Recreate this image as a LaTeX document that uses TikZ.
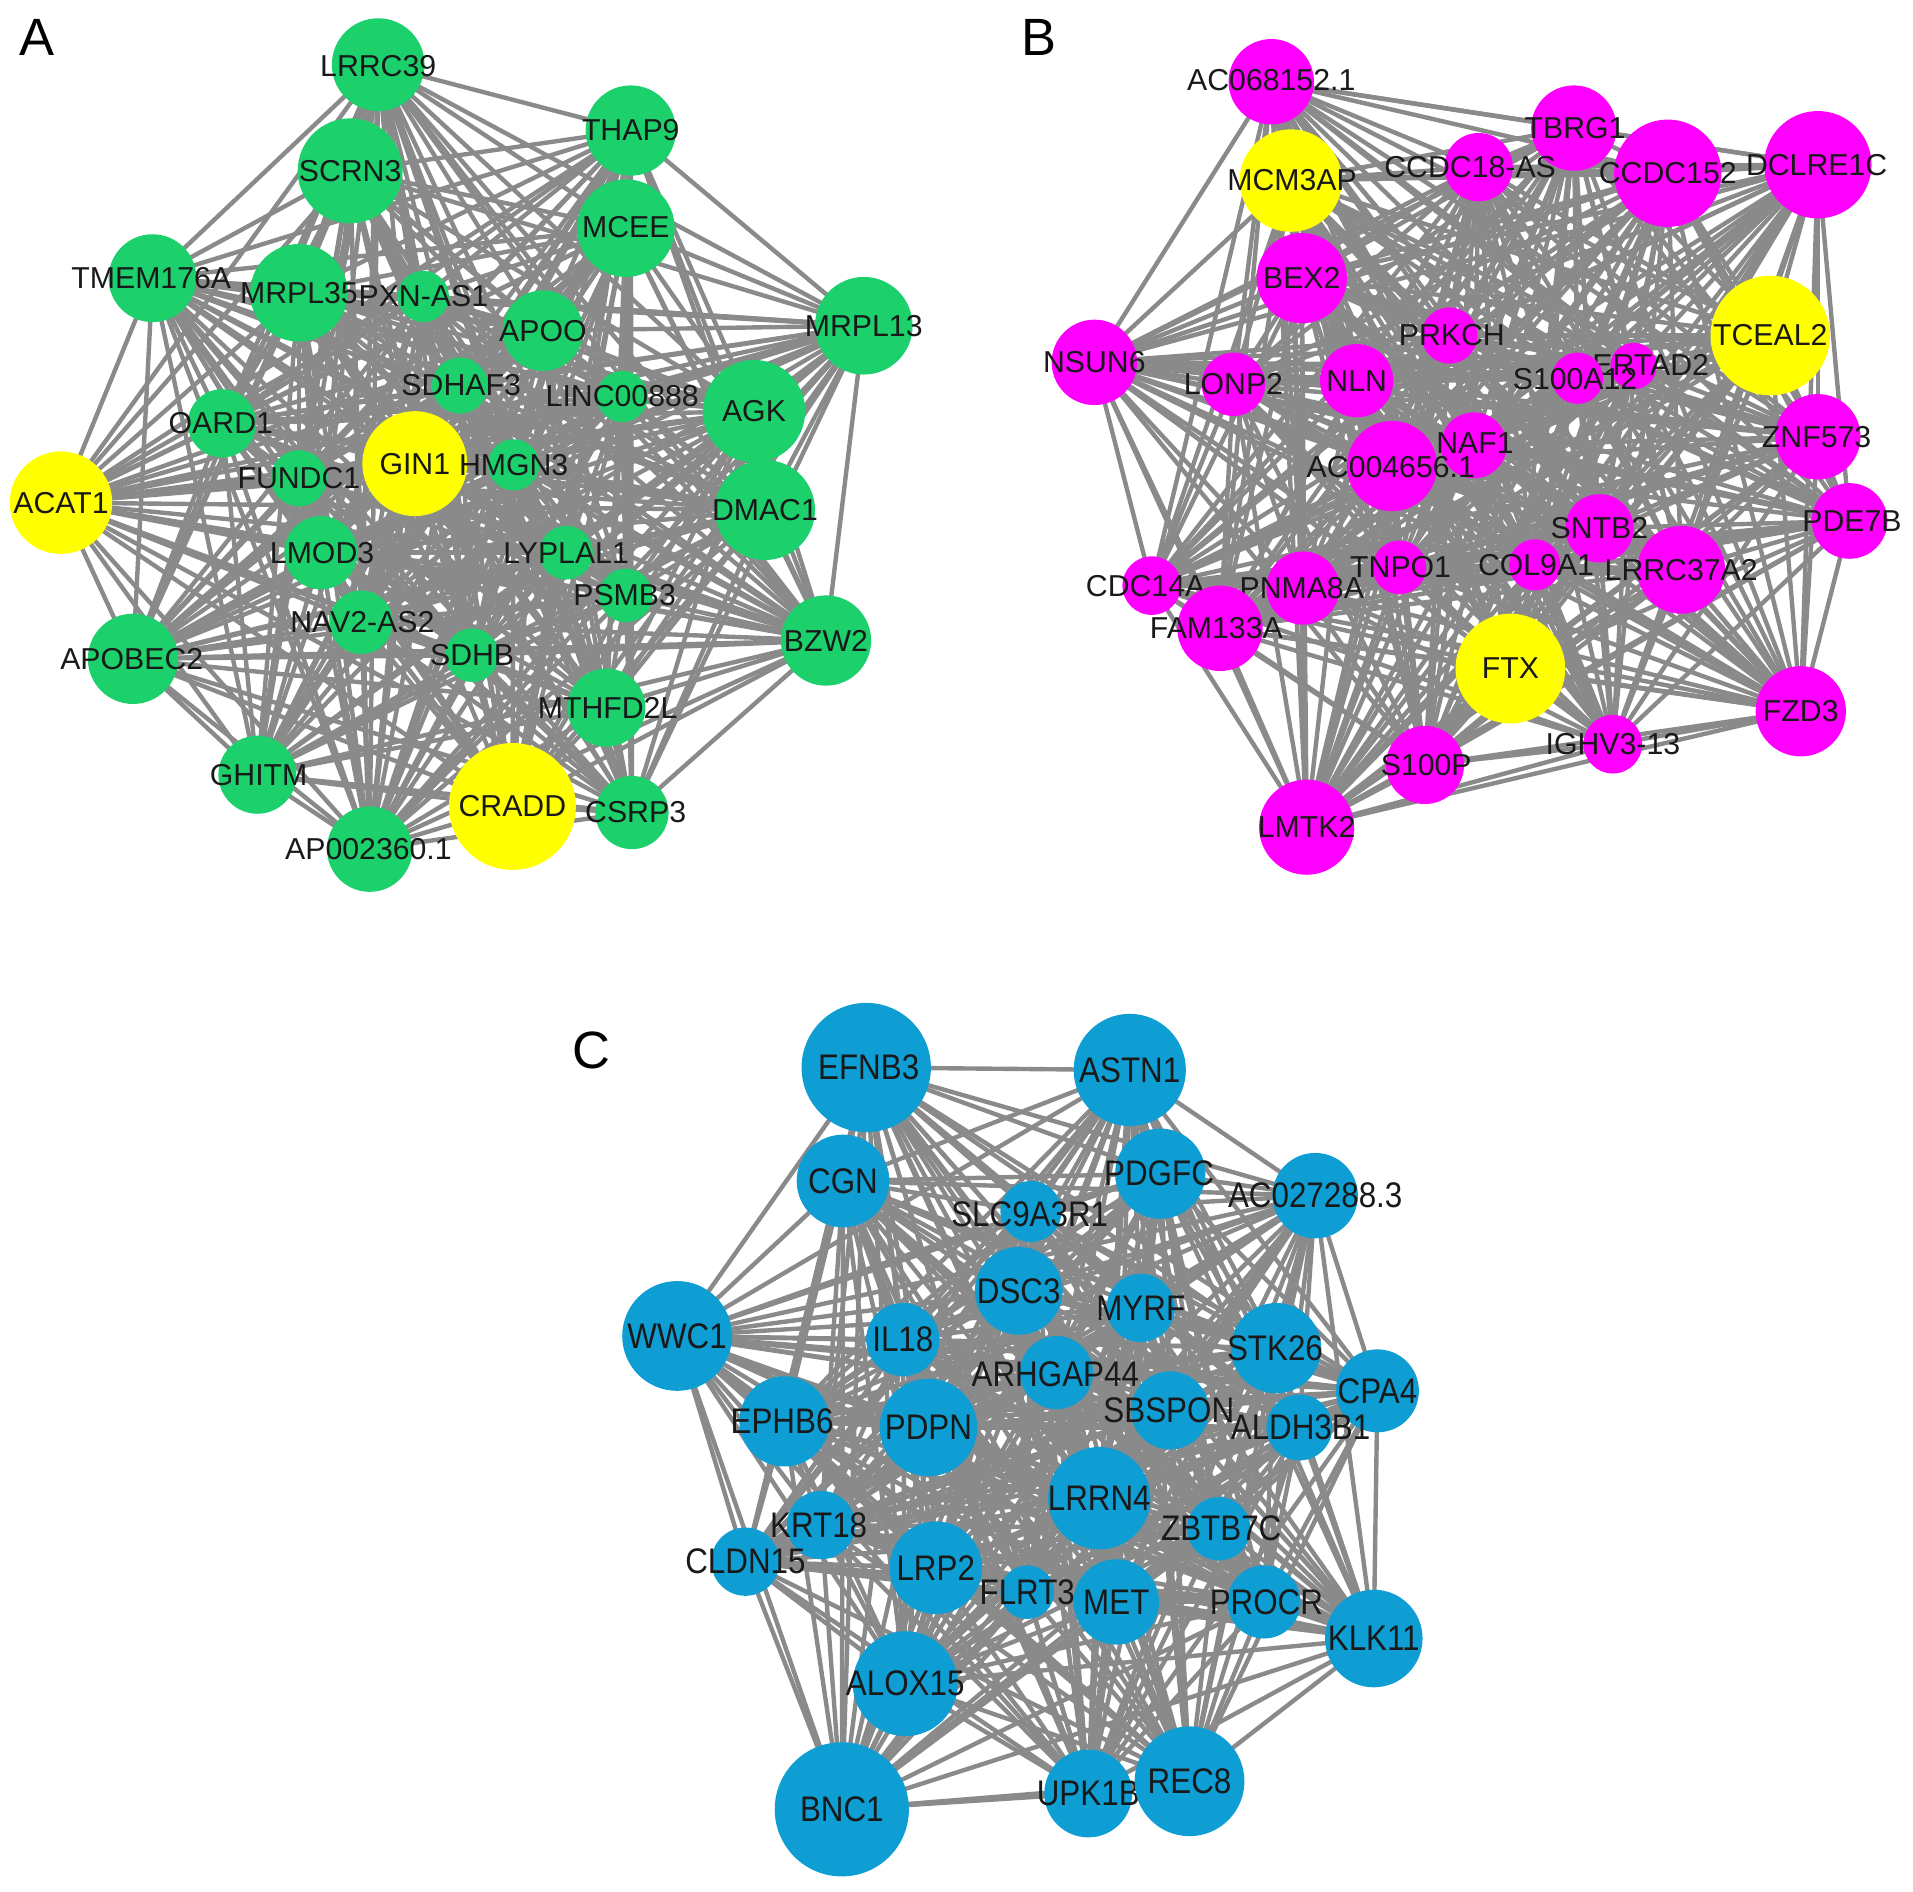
\documentclass[tikz,border=0pt]{standalone}
\usepackage{fontspec}
\usepackage{graphicx}
\setmainfont{Liberation Sans}
\usetikzlibrary{backgrounds}
\definecolor{ngreen}{RGB}{28,208,108}
\definecolor{nmag}{RGB}{255,0,255}
\definecolor{nyel}{RGB}{255,255,0}
\definecolor{nblue}{RGB}{14,158,212}
\definecolor{egray}{RGB}{138,138,138}
\definecolor{ltext}{RGB}{25,25,25}
\tikzset{
  gnode/.style={circle,fill=ngreen,draw=none,inner sep=0pt},
  mnode/.style={circle,fill=nmag,draw=none,inner sep=0pt},
  ynode/.style={circle,fill=nyel,draw=none,inner sep=0pt},
  bnode/.style={circle,fill=nblue,draw=none,inner sep=0pt},
  lbl/.style={inner sep=0pt,text=ltext,font=\fontsize{24.8}{28}\selectfont},
  panel/.style={inner sep=0pt,text=black,font=\fontsize{43}{48}\selectfont},
  edge/.style={draw=egray,line width=3.6pt}
}
% style, name, x, y, radius, text, label x, label y
\newcommand\gn[8]{%
  \node[#1,minimum size=2*#5pt] (#2) at (#3,#4) {};
  \node[lbl] (#2L) at (#7,#8) {#6};}
% panel C: slightly larger, taller lettering
\newcommand\gc[8]{%
  \node[#1,minimum size=2*#5pt] (#2) at (#3,#4) {};
  \node[lbl,font=\fontsize{26.5}{30}\selectfont] (#2L) at (#7,#8) {\scalebox{0.97}[1.1]{#6}};}
\begin{document}
\begin{tikzpicture}[x=1pt,y=-1pt]
\path[use as bounding box] (0,0) rectangle (1568,1550);
\node[panel] (pA) at (30,31) {A};
\node[panel] (pB) at (852,31) {B};
\node[panel] (pC) at (485,861) {C};
% ---------------- Panel A ----------------
\gn{gnode}{LRRCa}{310}{53}{38}{LRRC39}{310}{54}
\gn{gnode}{THAP}{517}{107}{37}{THAP9}{517}{107}
\gn{gnode}{SCRN}{287}{140}{43}{SCRN3}{287}{140}
\gn{gnode}{MCEE}{513}{187}{40}{MCEE}{513}{186}
\gn{gnode}{TMEM}{125}{228}{36}{TMEM176A}{124}{228}
\gn{gnode}{MRPLa}{245}{240}{40}{MRPL35}{245}{240}
\gn{gnode}{PXN}{347}{243}{21}{PXN-AS1}{347}{243}
\gn{gnode}{APOO}{445}{271}{33}{APOO}{445}{271}
\gn{gnode}{MRPLb}{708}{267}{40}{MRPL13}{708}{267}
\gn{gnode}{SDHAF}{377}{316}{23}{SDHAF3}{378}{316}
\gn{gnode}{LINC}{510}{325}{21}{LINC00888}{510}{325}
\gn{gnode}{AGK}{618}{337}{42}{AGK}{618}{337}
\gn{gnode}{OARD}{182}{347}{28}{OARD1}{181}{347}
\gn{ynode}{GIN}{340}{380}{43}{GIN1}{340}{380}
\gn{gnode}{HMGN}{421}{381}{21}{HMGN3}{421}{381}
\gn{gnode}{FUND}{245}{392}{23}{FUNDC1}{245}{392}
\gn{ynode}{ACAT}{50}{412}{42}{ACAT1}{50}{412}
\gn{gnode}{DMAC}{627}{418}{41}{DMAC1}{627}{418}
\gn{gnode}{LMOD}{263}{453}{30}{LMOD3}{264}{453}
\gn{gnode}{LYPL}{464}{453}{22}{LYPLAL1}{464}{453}
\gn{gnode}{PSMB}{513}{488}{22}{PSMB3}{512}{488}
\gn{gnode}{NAVA}{296}{510}{26}{NAV2-AS2}{297}{510}
\gn{gnode}{APOB}{109}{540}{37}{APOBEC2}{108}{540}
\gn{gnode}{BZW}{677}{525}{37}{BZW2}{677}{525}
\gn{gnode}{SDHB}{387}{537}{22}{SDHB}{387}{537}
\gn{gnode}{MTHF}{497}{580}{32}{MTHFD2L}{498}{580}
\gn{gnode}{GHIT}{211}{635}{32}{GHITM}{212}{635}
\gn{ynode}{CRADD}{420}{661}{52}{CRADD}{420}{661}
\gn{gnode}{CSRP}{518}{666}{30}{CSRP3}{521}{666}
\gn{gnode}{APZ}{303}{696}{35}{AP002360.1}{302}{696}
% ---------------- Panel B ----------------
\gn{mnode}{ACsix}{1042}{67}{35}{AC068152.1}{1042}{66}
\gn{mnode}{TBRG}{1290}{105}{35}{TBRG1}{1291}{105}
\gn{mnode}{CCDCa}{1212}{137}{28}{CCDC18-AS}{1205}{137}
\gn{mnode}{CCDCb}{1367}{142}{44}{CCDC152}{1367}{142}
\gn{mnode}{DCLR}{1490}{135}{44}{DCLRE1C}{1489}{135}
\gn{ynode}{MCM}{1058}{148}{42}{MCM3AP}{1059}{148}
\gn{mnode}{BEX}{1067}{228}{37}{BEX2}{1067}{228}
\gn{ynode}{TCEAL}{1451}{275}{49}{TCEAL2}{1451}{275}
\gn{mnode}{PRKCH}{1188}{275}{23}{PRKCH}{1190}{275}
\gn{mnode}{NSUN}{897}{297}{35}{NSUN6}{897}{297}
\gn{mnode}{LONP}{1011}{315}{26}{LONP2}{1011}{315}
\gn{mnode}{NLN}{1112}{312}{30}{NLN}{1112}{312}
\gn{mnode}{SERT}{1339}{300}{19}{ERTAD2}{1353}{299}
\gn{mnode}{SAtw}{1293}{310}{21}{S100A12}{1291}{311}
\gn{mnode}{ZNF}{1490}{358}{35}{ZNF573}{1489}{358}
\gn{mnode}{NAF}{1208}{365}{27}{NAF1}{1209}{363}
\gn{mnode}{ACfour}{1141}{382}{37}{AC004656.1}{1140}{383}
\gn{mnode}{PDE}{1516}{427}{31}{PDE7B}{1518}{427}
\gn{mnode}{SNTB}{1311}{433}{28}{SNTB2}{1311}{433}
\gn{mnode}{CDC}{944}{480}{24}{CDC14A}{939}{480}
\gn{mnode}{PNMA}{1068}{482}{30}{PNMA8A}{1067}{482}
\gn{mnode}{TNPO}{1147}{465}{22}{TNPO1}{1148}{465}
\gn{mnode}{COL}{1258}{463}{21}{COL9A1}{1259}{463}
\gn{mnode}{LRRCc}{1378}{467}{36}{LRRC37A2}{1378}{467}
\gn{mnode}{FAM}{1000}{515}{35}{FAM133A}{997}{515}
\gn{ynode}{FTX}{1238}{548}{45}{FTX}{1238}{548}
\gn{mnode}{FZD}{1476}{583}{37}{FZD3}{1476}{583}
\gn{mnode}{IGHV}{1322}{610}{24}{IGHV3-13}{1322}{610}
\gn{mnode}{SP}{1168}{627}{32}{S100P}{1169}{627}
\gn{mnode}{LMTK}{1071}{678}{39}{LMTK2}{1071}{678}
% ---------------- Panel C ----------------
\gc{bnode}{EFNB}{710}{875}{53}{EFNB3}{712}{875}
\gc{bnode}{ASTN}{926}{877}{46}{ASTN1}{926}{877}
\gc{bnode}{CGN}{691}{968}{38}{CGN}{691}{968}
\gc{bnode}{PDGFC}{951}{962}{37}{PDGFC}{950}{962}
\gc{bnode}{ACtwo}{1078}{980}{35}{AC027288.3}{1078}{980}
\gc{bnode}{SLC}{845}{993}{25}{SLC9A3R1}{844}{995}
\gc{bnode}{DSC}{835}{1058}{36}{DSC3}{835}{1058}
\gc{bnode}{MYRF}{935}{1072}{28}{MYRF}{935}{1072}
\gc{bnode}{WWC}{555}{1095}{45}{WWC1}{555}{1095}
\gc{bnode}{IL}{740}{1098}{30}{IL18}{740}{1098}
\gc{bnode}{STK}{1046}{1105}{37}{STK26}{1045}{1105}
\gc{bnode}{CPA}{1129}{1140}{34}{CPA4}{1129}{1140}
\gc{bnode}{ARH}{866}{1125}{30}{ARHGAP44}{865}{1126}
\gc{bnode}{EPHB}{643}{1165}{37}{EPHB6}{641}{1165}
\gc{bnode}{PDPN}{761}{1170}{40}{PDPN}{761}{1170}
\gc{bnode}{SBS}{959}{1156}{32}{SBSPON}{958}{1156}
\gc{bnode}{ALDH}{1065}{1170}{27}{ALDH3B1}{1066}{1170}
\gc{bnode}{LRRN}{901}{1228}{42}{LRRN4}{901}{1228}
\gc{bnode}{ZBTB}{999}{1253}{26}{ZBTB7C}{1001}{1253}
\gc{bnode}{KRT}{673}{1250}{28}{KRT18}{671}{1250}
\gc{bnode}{CLDN}{611}{1280}{28}{CLDN15}{611}{1280}
\gc{bnode}{LRP}{767}{1285}{38}{LRP2}{767}{1285}
\gc{bnode}{FLRT}{842}{1305}{22}{FLRT3}{842}{1305}
\gc{bnode}{MET}{915}{1313}{35}{MET}{915}{1313}
\gc{bnode}{PROCR}{1036}{1313}{30}{PROCR}{1038}{1313}
\gc{bnode}{KLK}{1126}{1343}{40}{KLK11}{1126}{1343}
\gc{bnode}{ALOX}{742}{1380}{43}{ALOX15}{742}{1380}
\gc{bnode}{BNC}{690}{1483}{55}{BNC1}{690}{1483}
\gc{bnode}{UPK}{892}{1470}{36}{UPK1B}{892}{1470}
\gc{bnode}{REC}{975}{1460}{45}{REC8}{975}{1460}
% ---------------- Edges ----------------
\begin{pgfonlayer}{background}
\foreach \lst in {
 {LRRCa,THAP,SCRN,MCEE,TMEM,MRPLa,PXN,APOO,MRPLb,SDHAF,LINC,AGK,OARD,GIN,HMGN,FUND,ACAT,DMAC,LMOD,LYPL,PSMB,NAVA,APOB,BZW,SDHB,MTHF,GHIT,CRADD,CSRP,APZ},
 {ACsix,TBRG,CCDCa,CCDCb,DCLR,MCM,BEX,TCEAL,PRKCH,NSUN,LONP,NLN,SERT,SAtw,ZNF,NAF,ACfour,PDE,SNTB,CDC,PNMA,TNPO,COL,LRRCc,FAM,FTX,FZD,IGHV,SP,LMTK},
 {EFNB,ASTN,CGN,PDGFC,ACtwo,SLC,DSC,MYRF,WWC,IL,STK,CPA,ARH,EPHB,PDPN,SBS,ALDH,LRRN,ZBTB,KRT,CLDN,LRP,FLRT,MET,PROCR,KLK,ALOX,BNC,UPK,REC}}{
  \foreach \a [count=\i] in \lst {
    \foreach \b [count=\j] in \lst {
      \ifnum\j>\i \draw[edge] (\a.center) -- (\b.center); \fi
    }
  }
}
\end{pgfonlayer}
\end{tikzpicture}
\end{document}
